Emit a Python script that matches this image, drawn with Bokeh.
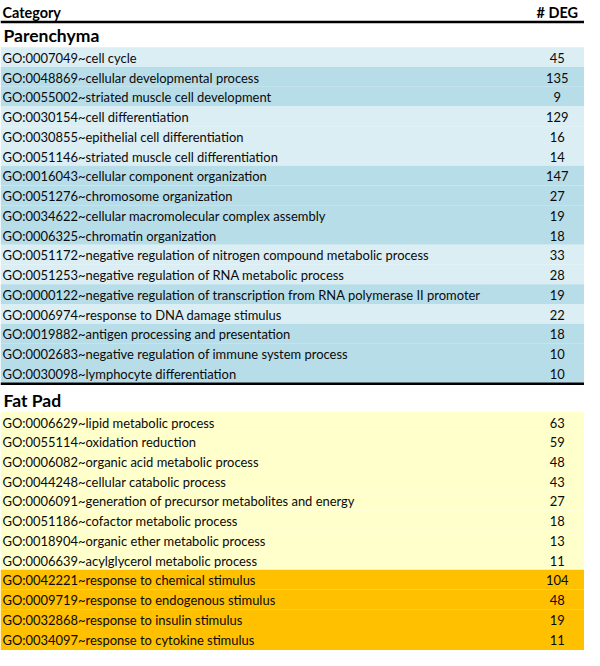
from bokeh.plotting import figure
from bokeh.models import Range1d, ColumnDataSource
from bokeh.embed import file_html
from bokeh.resources import INLINE
from bokeh.core.properties import value

# ---------------- data ----------------
header_category = "Category"
header_count = "# DEG"

group_names = ["Parenchyma", "Fat Pad"]

par_terms = [
    "GO:0007049~cell cycle",
    "GO:0048869~cellular developmental process",
    "GO:0055002~striated muscle cell development",
    "GO:0030154~cell differentiation",
    "GO:0030855~epithelial cell differentiation",
    "GO:0051146~striated muscle cell differentiation",
    "GO:0016043~cellular component organization",
    "GO:0051276~chromosome organization",
    "GO:0034622~cellular macromolecular complex assembly",
    "GO:0006325~chromatin organization",
    "GO:0051172~negative regulation of nitrogen compound metabolic process",
    "GO:0051253~negative regulation of RNA metabolic process",
    "GO:0000122~negative regulation of transcription from RNA polymerase II promoter",
    "GO:0006974~response to DNA damage stimulus",
    "GO:0019882~antigen processing and presentation",
    "GO:0002683~negative regulation of immune system process",
    "GO:0030098~lymphocyte differentiation",
]
par_counts = [45, 135, 9, 129, 16, 14, 147, 27, 19, 18, 33, 28, 19, 22, 18, 10, 10]
par_shade = [0, 1, 1, 0, 0, 0, 1, 1, 1, 1, 0, 0, 1, 0, 1, 1, 1]

fat_terms = [
    "GO:0006629~lipid metabolic process",
    "GO:0055114~oxidation reduction",
    "GO:0006082~organic acid metabolic process",
    "GO:0044248~cellular catabolic process",
    "GO:0006091~generation of precursor metabolites and energy",
    "GO:0051186~cofactor metabolic process",
    "GO:0018904~organic ether metabolic process",
    "GO:0006639~acylglycerol metabolic process",
    "GO:0042221~response to chemical stimulus",
    "GO:0009719~response to endogenous stimulus",
    "GO:0032868~response to insulin stimulus",
    "GO:0034097~response to cytokine stimulus",
]
fat_counts = [63, 59, 48, 43, 27, 18, 13, 11, 104, 48, 19, 11]
fat_shade = [0, 0, 0, 0, 0, 0, 0, 0, 1, 1, 1, 1]

# ---------------- layout / style ----------------
W, H = 584, 650
REF_W, REF_H = 600, 666
S = W / REF_W
FONT = "Lato"
ROW_H = 20.22
PAR_TOP = 48.0
FAT_TOP = 421.5
COUNT_X = 572
par_colors = ["#DAEEF3", "#B7DDE8"]
fat_colors = ["#FFFFCC", "#FFC000"]

p = figure(width=W, height=H, x_range=Range1d(0, REF_W), y_range=Range1d(REF_H, 0),
           output_backend="svg", toolbar_location=None, min_border=0,
           x_axis_location=None, y_axis_location=None)
p.grid.visible = False
p.outline_line_color = None
p.background_fill_color = "white"
p.border_fill_color = "white"


def add_block(terms, counts, shade, colors, top0):
    tops = [top0 + i * ROW_H for i in range(len(terms))]
    bottoms = [t + ROW_H for t in tops]
    if colors is fat_colors:
        bottoms[-1] = REF_H
    src = ColumnDataSource(dict(
        top=tops,
        bottom=bottoms,
        mid=[t + ROW_H / 2 + 0.8 for t in tops],
        term=terms,
        count=[str(c) for c in counts],
        color=[colors[s] for s in shade],
    ))
    p.quad(left=0, right=REF_W, top="top", bottom="bottom", fill_color="color",
           line_color=None, source=src)
    p.text(x=2, y="mid", text="term", source=src, text_font=value(FONT),
           text_font_size=f"{13.3 * S:.2f}px", text_baseline="middle",
           text_align="left", text_color="#0a0a0a")
    p.text(x=COUNT_X, y="mid", text="count", source=src, text_font=value(FONT),
           text_font_size=f"{13.3 * S:.2f}px", text_baseline="middle",
           text_align="center", text_color="#0a0a0a")


add_block(par_terms, par_counts, par_shade, par_colors, PAR_TOP)
add_block(fat_terms, fat_counts, fat_shade, fat_colors, FAT_TOP)

# header
p.text(x=[2], y=[12], text=[header_category], text_font=value(FONT),
       text_font_size=f"{14.8 * S:.2f}px", text_font_style="bold",
       text_baseline="middle", text_align="left")
p.text(x=[COUNT_X], y=[12], text=[header_count], text_font=value(FONT),
       text_font_size=f"{14.8 * S:.2f}px", text_font_style="bold",
       text_baseline="middle", text_align="center")
p.segment(x0=[0], x1=[REF_W], y0=[22], y1=[22], line_color="black", line_width=2.5)

# group titles
p.text(x=[3, 3], y=[36, 410], text=group_names, text_font=value(FONT),
       text_font_size=f"{18 * S:.2f}px", text_font_style="bold",
       text_baseline="middle", text_align="left")
p.segment(x0=[0], x1=[REF_W], y0=[PAR_TOP + 17 * ROW_H + 1], y1=[PAR_TOP + 17 * ROW_H + 1],
          line_color="black", line_width=2.5)

open("out.html", "w").write(file_html(p, INLINE))
